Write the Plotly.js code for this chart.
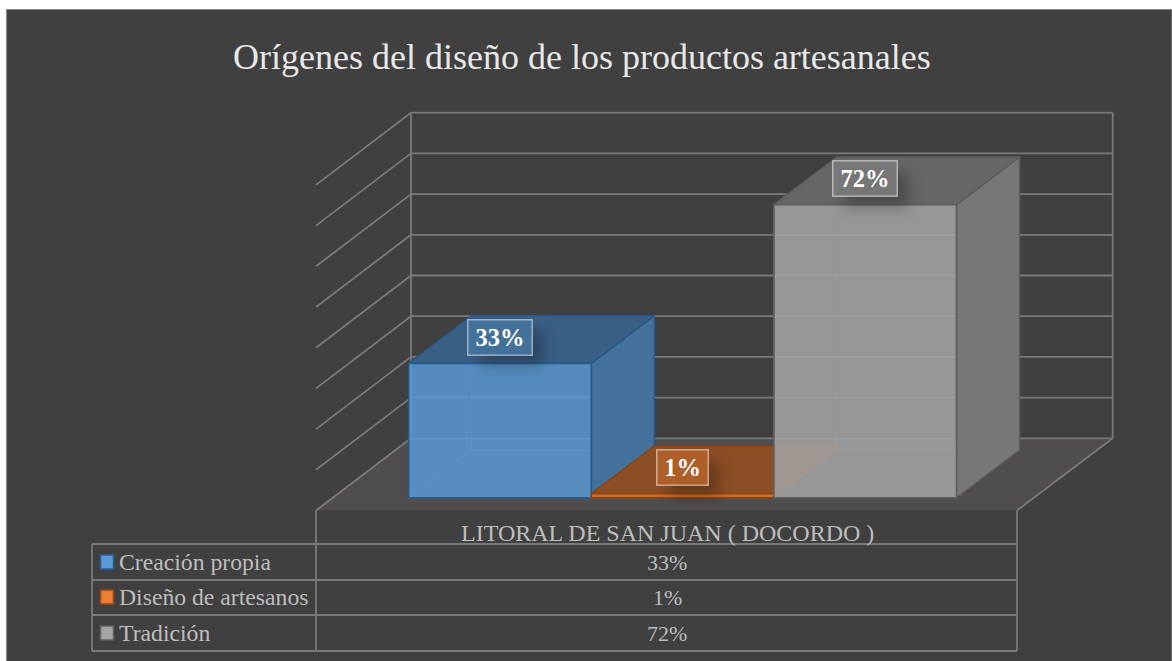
<!DOCTYPE html>
<html><head><meta charset="utf-8">
<script src="https://cdn.plot.ly/plotly-3.0.1.min.js"></script>
<style>
html,body{margin:0;padding:0;background:#fff;overflow:hidden}
</style></head><body>
<div id="chart" style="width:1172px;height:661px"></div>
<script>
// ---- data ----
const chartTitle = "Orígenes del diseño de los productos artesanales";
const tableHeader = "LITORAL DE SAN JUAN ( DOCORDO )";
const seriesNames = ["Creación propia", "Diseño de artesanos", "Tradición"];
const seriesValues = [33, 1, 72];
const gridValues = [0, 10, 20, 30, 40, 50, 60, 70, 80];

// ---- styles ----
const frontFill = ["rgba(91,155,213,0.84)", "rgba(226,112,40,0.9)", "rgba(162,162,162,0.88)"];
const edgeColor = ["#265a8c", "#8a4413", "#5e5e5e"];
const sideFill  = ["#44719b", "#8c4f25", "#777777"];
const topFill   = ["#395f85", "#8c4f25", "#666666"];
const hiddenEdge= ["rgba(91,155,213,0.4)", "rgba(0,0,0,0)", "rgba(175,175,175,0.3)"];
const keyFill   = ["#5b9bd5", "#ed7d31", "#a5a5a5"];
const keyEdge   = ["#2a5f96", "#96481a", "#606060"];
const labelFill = ["#43719a", "#ad5e29", "#777777"];
const lineCol = "#7a7a7a", serif = "Liberation Serif";

// ---- pixel <-> axis scale ----
const W = 1172, H = 661, x0Px = 408.7, slotPx = 182.6, y0Px = 497.7, unitPx = 4.07;
const X = p => (p - x0Px) / slotPx, Y = p => (y0Px - p) / unitPx;
const xr = [X(0), X(W)], yr = [Y(H), Y(0)];
const dx = 63 / slotPx, dy = 47.7 / unitPx;      // bar depth in axis units
const wallDy = (y0Px - 438.3) / unitPx;          // back wall zero in axis units

// ---- frame, walls, table ----
const shapes = [];
const line = (x1, y1, x2, y2, w = 1.8, c = lineCol) => shapes.push({type:"line", layer:"below", xref:"x", yref:"y",
  x0:X(x1), x1:X(x2), y0:Y(y1), y1:Y(y2), line:{color:c, width:w}});
const rect = (x1, y1, x2, y2, fill, c, w) => shapes.push({type:"rect", layer:"below", xref:"x", yref:"y",
  x0:X(x1), x1:X(x2), y0:Y(y1), y1:Y(y2), fillcolor:fill, line:{color:c, width:w}});

rect(6.5, 9.5, 1172, 662, "#404040", "#8a8a8a", 1.2);
shapes.push({type:"path", layer:"below", xref:"x", yref:"y", fillcolor:"#4f4d4d", line:{width:0},
  path:`M${X(316)},${Y(510.5)} L${X(411)},${Y(438.3)} L${X(1112.7)},${Y(438.3)} L${X(1017)},${Y(510.5)} Z`});
gridValues.forEach(v => {
  const yp = y0Px - (v + wallDy) * unitPx;
  line(411, yp, 1112.7, yp);
  line(411, yp, 316, yp + 72.2);
});
line(411, 112.7, 411, 438.3);
line(1112.7, 112.7, 1112.7, 438.3);
line(1112.7, 438.3, 1017, 510.5);
// table
[544, 580, 615, 651].forEach(y => line(92, y, 1017, y));
line(92, 544, 92, 651);
line(316, 510.5, 316, 651);
line(1017, 510.5, 1017, 651);

// ---- annotations ----
const annotations = [];
const labelWidth = s => 13 * s.length + 24;
// soft shadows of the data labels come first so they sit underneath
seriesValues.forEach((v, i) => {
  const s = v + "%";
  annotations.push({text:" ", x:i + 0.5, y:v, xref:"x", yref:"y", xshift:11, yshift:26 - 11, showarrow:false,
    width:labelWidth(s), height:34, xanchor:"center", yanchor:"middle", bgcolor:"rgba(0,0,0,0.26)", borderpad:0});
});
const shadowCount = annotations.length;
const txt = (text, xp, yp, size, color, anchor) => annotations.push({text, x:X(xp), y:Y(yp), xref:"x", yref:"y",
  showarrow:false, xanchor:anchor || "center", yanchor:"middle", font:{family:serif, size, color}});
txt(chartTitle, 582, 57, 36, "#e8e8e8");
txt(tableHeader, 667, 533, 24, "#bdbdbd");

const rowY = [562, 597, 633];
seriesNames.forEach((n, i) => {
  txt(n, 116.5, rowY[i], 23.7, "#bdbdbd", "left");
  txt(seriesValues[i] + "%", 667, rowY[i], 22, "#bdbdbd");
  rect(100.5, rowY[i] - 7, 113.5, rowY[i] + 7, keyFill[i], keyEdge[i], 1.6);
  const s = seriesValues[i] + "%";
  annotations.push({text:"<b>" + s + "</b>", x:i + 0.5, y:seriesValues[i], xref:"x", yref:"y",
    yshift:26, showarrow:false, width:labelWidth(s), height:34, xanchor:"center", yanchor:"middle",
    bgcolor:labelFill[i], bordercolor:"rgba(255,255,255,0.5)", borderwidth:1.5, borderpad:0,
    font:{family:serif, size:24.5, color:"#ffffff"}});
});

// ---- traces: bar depth faces on the base axes, front faces as bars on the overlay axes ----
const traces = [];
seriesValues.forEach((v, i) => {
  const l = i, r = i + 1;
  const face = (xs, ys, fill) => traces.push({type:"scatter", mode:"lines", x:xs, y:ys, fill:"toself", fillcolor:fill,
    line:{color:edgeColor[i], width:1.5}, hoverinfo:"skip", showlegend:false, xaxis:"x", yaxis:"y"});
  traces.push({type:"scatter", mode:"lines", x:[l, l + dx, l + dx, null, l + dx, r + dx], y:[0, dy, v + dy, null, dy, dy],
    line:{color:hiddenEdge[i], width:1}, hoverinfo:"skip", showlegend:false, xaxis:"x", yaxis:"y"});
  face([r, r + dx, r + dx, r, r], [0, dy, v + dy, v, 0], sideFill[i]);
  face([l, l + dx, r + dx, r, l], [v, v + dy, v + dy, v, v], topFill[i]);
  traces.push({type:"bar", name:seriesNames[i], x:[i + 0.5], y:[v], width:[1],
    marker:{color:frontFill[i], line:{color:edgeColor[i], width:1.6}}, xaxis:"x2", yaxis:"y2", showlegend:false});
});

const hiddenAxis = range => ({range, visible:false, fixedrange:true, showgrid:false, zeroline:false});
const layout = {
  width:W, height:H, margin:{l:0, r:0, t:0, b:0, pad:0}, paper_bgcolor:"#ffffff", plot_bgcolor:"rgba(0,0,0,0)",
  showlegend:false, barmode:"overlay", shapes, annotations,
  xaxis:hiddenAxis(xr), yaxis:hiddenAxis(yr),
  xaxis2:Object.assign(hiddenAxis(xr), {overlaying:"x"}),
  yaxis2:Object.assign(hiddenAxis(yr), {overlaying:"y"})
};
const blurShadows = () => {
  for (let k = 0; k < shadowCount; k++) {
    const r = document.querySelector(`.annotation[data-index="${k}"] rect.bg`);
    if (r) r.style.filter = "blur(7px)";
  }
};
Plotly.newPlot("chart", traces, layout, {displayModeBar:false}).then(blurShadows);
</script>
</body></html>
